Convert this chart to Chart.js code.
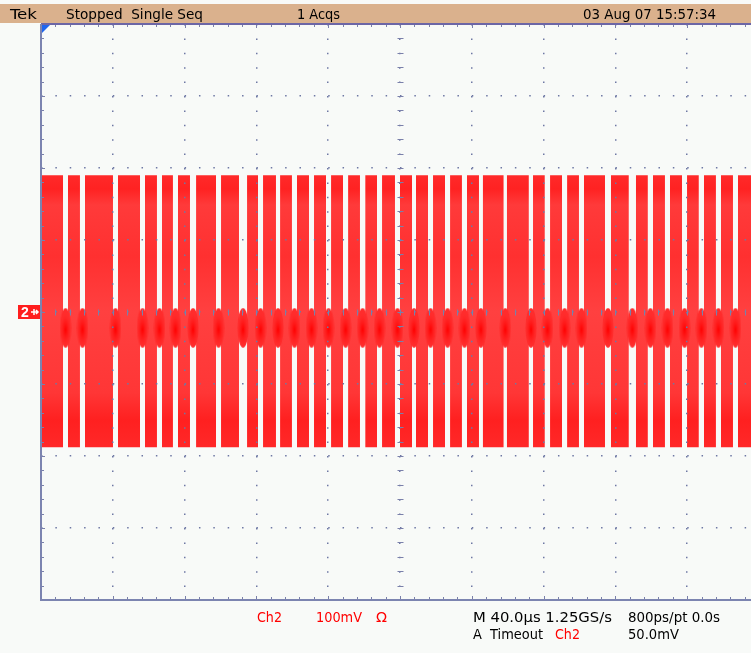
<!DOCTYPE html>
<html lang="en">
<head>
<meta charset="UTF-8">
<title>Tek Ch2 burst capture</title>
<script src="https://cdn.jsdelivr.net/npm/chart.js"></script>
<style>
    html, body { margin: 0; padding: 0; background: #f8faf8; overflow: hidden; width: 751px; height: 653px; }
    #wrap { position: relative; width: 751px; height: 653px; }
    #topbar { position: absolute; left: 0; top: 4px; width: 751px; height: 19px; background: #dab18d; }
    canvas { position: absolute; left: 0; top: 0; }
    .lbl { position: absolute; font-family: "Liberation Sans Narrow", "DejaVu Sans Condensed", "Liberation Sans", sans-serif;
           font-size: 14px; line-height: 14px; white-space: pre; transform-origin: 0 50%; color: #000; }
    .red { color: #ff0000; }
</style>
</head>
<body>
<div id="wrap">
    <div id="topbar"></div>
    <canvas id="scope" width="780" height="653"></canvas>
</div>
<script>
// time in microseconds from the left edge of the screen (40 us/div), volts in mV (100 mV/div)
const burstStart = [0.3, 15.0, 24.5, 42.9, 57.9, 67.4, 76.3, 86.4, 100.3, 114.8, 123.7, 133.2, 142.6,
    152.1, 161.6, 171.1, 180.6, 190.0, 200.0, 208.9, 218.4, 227.9, 237.3, 246.1, 259.5, 274.1, 283.6,
    293.1, 302.5, 317.5, 331.4, 340.9, 350.4, 359.9, 369.3, 378.8, 388.3];
const burstEnd = [12.3, 21.7, 40.1, 55.2, 64.6, 73.5, 83.0, 97.5, 110.3, 120.9, 130.9, 139.8, 149.3,
    158.8, 168.3, 177.7, 187.2, 197.2, 206.7, 215.6, 225.1, 234.5, 244.0, 257.8, 271.8, 280.7, 290.3,
    299.7, 314.2, 327.5, 338.1, 347.6, 357.1, 366.5, 376.0, 385.5, 400];
const envelopeHigh = 190;
const envelopeLow = -188;
const gapBlobLevel = -22;

const xTicks = [0, 40, 80, 120, 160, 200, 240, 280, 320, 360, 400];
const yTicks = [-400, -300, -200, -100, 0, 100, 200, 300, 400];

const headerTexts = [
    ['Tek', 10, 37], ['Stopped  Single Seq', 66, 203], ['1 Acqs', 297, 340], ['03 Aug 07 15:57:34', 583, 716]
];
const footerTexts = [
    ['Ch2', 257, 282, 617, true], ['100mV', 316, 362, 617, true], ['\u03a9', 376, 387, 617, true],
    ['M 40.0\u00b5s 1.25GS/s', 473, 612, 617, false], ['800ps/pt 0.0s', 628, 720, 617, false],
    ['A  Timeout', 473, 543, 634, false], ['Ch2', 555, 580, 634, true], ['50.0mV', 628, 679, 634, false]
];

// envelope: one run of two points per burst, broken by nulls
const envelope = [];
burstStart.forEach((s, i) => {
    envelope.push({ x: s, y: envelopeHigh }, { x: burstEnd[i], y: envelopeHigh }, { x: burstEnd[i], y: null });
});
// dense spot that bridges each gap just below zero
const gapBlobs = burstStart.slice(1).map((s, i) => ({ x: (burstEnd[i] + s) / 2, y: gapBlobLevel }));

const blob = document.createElement('canvas');
blob.width = 12; blob.height = 40;
(function () {
    const b = blob.getContext('2d');
    b.save();
    b.translate(6, 20);
    b.scale(1, 3.6);
    b.beginPath(); b.arc(0, 0, 5.5, 0, Math.PI * 2);
    b.restore();
    b.fillStyle = '#ff2c2c';
    b.fill();
    b.save();
    b.translate(6, 22);
    b.scale(1, 3);
    const r = b.createRadialGradient(0, 0, 0, 0, 0, 5);
    r.addColorStop(0, 'rgba(255,0,0,1)');
    r.addColorStop(1, 'rgba(255,20,20,0)');
    b.fillStyle = r;
    b.beginPath(); b.arc(0, 0, 5, 0, Math.PI * 2); b.fill();
    b.restore();
})();

const gridColor = '#6e78a4';

const graticule = {
    id: 'graticule',
    afterDraw(chart) {
        const { ctx, chartArea: a, scales: { x, y } } = chart;
        ctx.save();
        ctx.strokeStyle = '#7a80aa';
        ctx.lineWidth = 1;
        // minor ticks on the frame and the centre cross
        const cx = Math.round(x.getPixelForValue(200)) + 0.5;
        const cy = Math.round(y.getPixelForValue(0)) + 0.5;
        ctx.beginPath();
        for (let t = 0; t <= 400; t += 8) {
            const px = Math.round(x.getPixelForValue(t)) + 0.5;
            const len = t % 40 === 0 ? 4 : 3;
            ctx.moveTo(px, a.top); ctx.lineTo(px, a.top + len);
            ctx.moveTo(px, a.bottom); ctx.lineTo(px, a.bottom - len);
            ctx.moveTo(px, cy - 3); ctx.lineTo(px, cy + 3);
        }
        for (let v = -400; v <= 400; v += 20) {
            const py = Math.round(y.getPixelForValue(v)) + 0.5;
            const len = v % 100 === 0 ? 4 : 3;
            ctx.moveTo(a.left, py); ctx.lineTo(a.left + len, py);
            ctx.moveTo(cx - 3, py); ctx.lineTo(cx + 3, py);
        }
        ctx.stroke();
        // frame
        ctx.lineWidth = 2;
        ctx.strokeStyle = '#6c66a6';
        ctx.beginPath();
        ctx.moveTo(a.left, a.top); ctx.lineTo(a.right, a.top);
        ctx.stroke();
        ctx.strokeStyle = '#7c84b0';
        ctx.beginPath();
        ctx.moveTo(a.left, a.top); ctx.lineTo(a.left, a.bottom); ctx.lineTo(a.right, a.bottom);
        ctx.stroke();
        // trigger position marker
        const tx = x.getPixelForValue(0);
        ctx.fillStyle = '#1f66ee';
        ctx.beginPath();
        ctx.moveTo(tx + 1, a.top + 1); ctx.lineTo(tx + 9, a.top + 1); ctx.lineTo(tx + 1, a.top + 9);
        ctx.closePath(); ctx.fill();
        // channel 2 ground marker
        const gy = y.getPixelForValue(0);
        ctx.fillStyle = '#ff1e1e';
        ctx.fillRect(18, gy - 7, 22, 14);
        ctx.fillStyle = '#ffffff';
        ctx.font = 'bold 14px "Liberation Sans", sans-serif';
        ctx.textBaseline = 'middle';
        ctx.fillText('2', 21, gy + 1);
        ctx.strokeStyle = '#ffffff';
        ctx.lineWidth = 1.5;
        ctx.beginPath();
        ctx.moveTo(31, gy); ctx.lineTo(38, gy);
        ctx.moveTo(34, gy - 3); ctx.lineTo(34, gy + 3);
        ctx.moveTo(36, gy - 2); ctx.lineTo(38, gy); ctx.lineTo(36, gy + 2);
        ctx.stroke();
        ctx.restore();
    }
};

function envelopeFill(context) {
    const chart = context.chart;
    if (!chart.chartArea) return '#ff3a3a';
    const y = chart.scales.y;
    const g = chart.ctx.createLinearGradient(0, y.getPixelForValue(envelopeHigh), 0, y.getPixelForValue(envelopeLow));
    g.addColorStop(0, '#ff2a2a');
    g.addColorStop(0.05, '#ff2222');
    g.addColorStop(0.11, '#ff3a3a');
    g.addColorStop(0.3, '#ff3030');
    g.addColorStop(0.5, '#ff4040');
    g.addColorStop(0.8, '#ff3636');
    g.addColorStop(0.9, '#ff2020');
    g.addColorStop(1, '#ff2828');
    return g;
}

new Chart(document.getElementById('scope'), {
    type: 'line',
    data: {
        datasets: [{
            label: 'gap',
            type: 'scatter',
            data: gapBlobs,
            pointStyle: blob,
            pointRadius: 5
        }, {
            label: 'Ch2',
            data: envelope,
            borderWidth: 0,
            borderColor: 'rgba(0,0,0,0)',
            pointRadius: 0,
            spanGaps: false,
            fill: { value: envelopeLow },
            backgroundColor: envelopeFill
        }]
    },
    options: {
        responsive: false,
        animation: false,
        devicePixelRatio: 1,
        layout: { padding: { left: 41, top: 24, right: 21, bottom: 53 } },
        plugins: { legend: { display: false }, tooltip: { enabled: false } },
        scales: {
            x: {
                type: 'linear', min: 0, max: 400,
                afterBuildTicks: s => { s.ticks = xTicks.map(v => ({ value: v })); },
                ticks: { display: false },
                grid: { color: gridColor, lineWidth: 1.5, drawTicks: false, z: 1 },
                border: { display: false, dash: [1.5, 12.9] }
            },
            y: {
                type: 'linear', min: -400, max: 400,
                afterBuildTicks: s => { s.ticks = yTicks.map(v => ({ value: v })); },
                ticks: { display: false },
                grid: { color: gridColor, lineWidth: 1.5, drawTicks: false, z: 1 },
                border: { display: false, dash: [1.5, 12.86] }
            }
        }
    },
    plugins: [graticule]
});

function place(text, x0, x1, yc, red) {
    const el = document.createElement('div');
    el.className = 'lbl' + (red ? ' red' : '');
    el.textContent = text;
    document.getElementById('wrap').appendChild(el);
    el.style.left = x0 + 'px';
    el.style.top = (yc - 7) + 'px';
    const w = el.getBoundingClientRect().width;
    if (w > 0) el.style.transform = 'scaleX(' + ((x1 - x0) / w).toFixed(3) + ')';
}
headerTexts.forEach(t => place(t[0], t[1], t[2], 14, false));
footerTexts.forEach(t => place(t[0], t[1], t[2], t[3], t[4]));
</script>
</body>
</html>
